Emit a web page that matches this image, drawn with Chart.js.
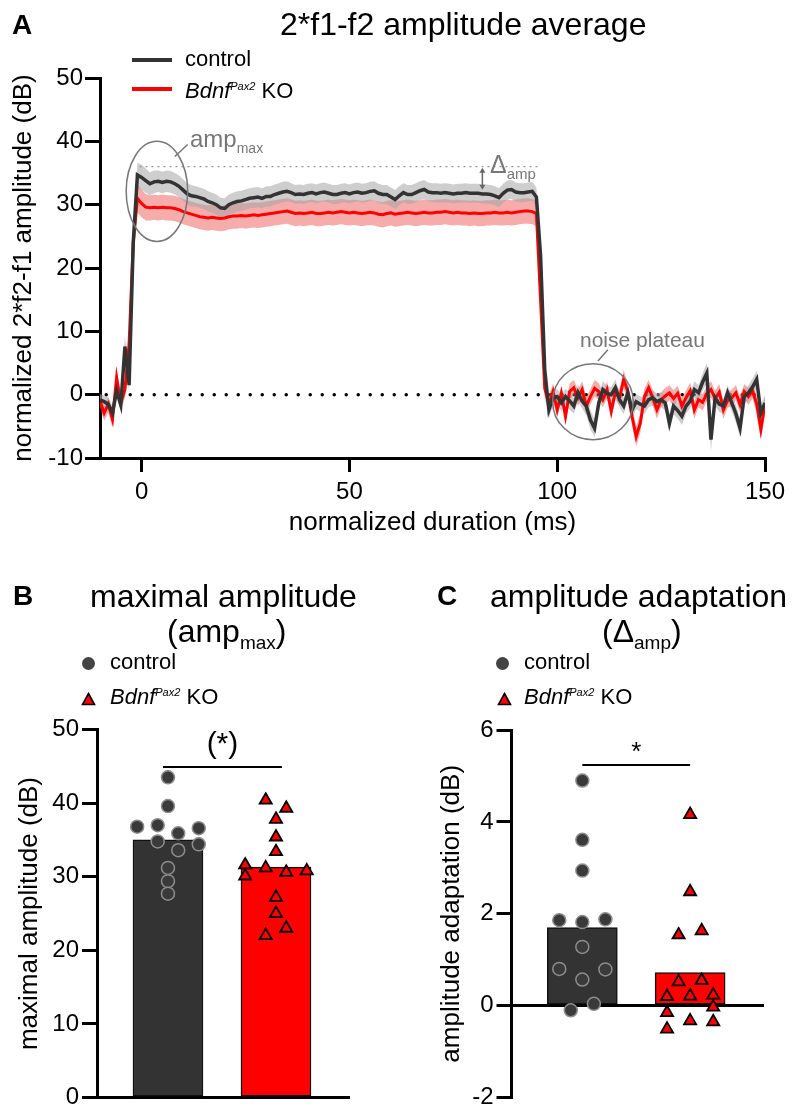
<!DOCTYPE html>
<html>
<head>
<meta charset="utf-8">
<script src="https://cdn.jsdelivr.net/npm/chart.js@4.4.0/dist/chart.umd.min.js"></script>
<style>
  body { margin: 0; background: #fff; }
  #page { position: relative; width: 795px; height: 1115px; overflow: hidden; font-family: "Liberation Sans", Arial, sans-serif; color: #000; }
  canvas { position: absolute; }
  .t { position: absolute; white-space: nowrap; line-height: 1; }
  .t sub, .t sup { line-height: 0; }
  .letter { font-weight: bold; font-size: 28px; }
  .title { font-size: 32px; }
  .leg { font-size: 22px; }
  .note { color: #777; }
  .swatch { position: absolute; width: 40px; height: 4px; }
  .dot { position: absolute; width: 13px; height: 13px; border-radius: 50%; background: #444; }
</style>
</head>
<body>
<div id="page">
  <canvas id="chartA" width="795" height="550" style="left:0;top:0"></canvas>
  <canvas id="chartB" width="400" height="555" style="left:0;top:560px"></canvas>
  <canvas id="chartC" width="395" height="555" style="left:400px;top:560px"></canvas>

  <!-- panel A text -->
  <div class="t letter" style="left:12px;top:11px">A</div>
  <div class="t title" style="left:280px;top:8px">2*f1-f2 amplitude average</div>
  <div class="swatch" style="left:132px;top:58px;background:#333"></div>
  <div class="t leg" style="left:185px;top:48px">control</div>
  <div class="swatch" style="left:132px;top:87px;background:#f00"></div>
  <div class="t leg" style="left:185px;top:80px"><i>Bdnf</i><sup style="font-size:11px"><i>Pax2</i></sup> KO</div>
  <div class="t note" style="left:190px;top:127px;font-size:24px">amp<sub style="font-size:14px">max</sub></div>
  <div class="t note" style="left:490px;top:152px;font-size:25px">Δ<sub style="font-size:15px">amp</sub></div>
  <div class="t note" style="left:580px;top:329px;font-size:21px">noise plateau</div>

  <!-- panel B text -->
  <div class="t letter" style="left:13px;top:582px">B</div>
  <div class="t title" style="left:90px;top:580px">maximal amplitude</div>
  <div class="t title" style="left:167px;top:615px">(amp<sub style="font-size:19px">max</sub>)</div>
  <div class="dot" style="left:82px;top:657px"></div>
  <div class="t leg" style="left:110px;top:651px">control</div>
  <svg style="position:absolute;left:81px;top:692px" width="15" height="14"><polygon points="7.5,1.5 13.5,12.5 1.5,12.5" fill="#f00" stroke="#000" stroke-width="1.6"/></svg>
  <div class="t leg" style="left:110px;top:686px"><i>Bdnf</i><sup style="font-size:11px"><i>Pax2</i></sup> KO</div>

  <!-- panel C text -->
  <div class="t letter" style="left:437px;top:582px">C</div>
  <div class="t title" style="left:490px;top:580px">amplitude adaptation</div>
  <div class="t title" style="left:602px;top:615px">(Δ<sub style="font-size:19px">amp</sub>)</div>
  <div class="dot" style="left:496px;top:657px"></div>
  <div class="t leg" style="left:524px;top:651px">control</div>
  <svg style="position:absolute;left:497px;top:692px" width="15" height="14"><polygon points="7.5,1.5 13.5,12.5 1.5,12.5" fill="#f00" stroke="#000" stroke-width="1.6"/></svg>
  <div class="t leg" style="left:524px;top:686px"><i>Bdnf</i><sup style="font-size:11px"><i>Pax2</i></sup> KO</div>
</div>

<script>
// ---- panel A: averaged traces, one sample per ms starting at -10 ms ----
const startMs = -10;
const ctrlAmp = [
  -0.8, -1.1, -1.5, -2.9, 0.6, -1.6, 7.6, 1.5, 24.0, 34.7,
  34.3, 33.8, 33.3, 33.6, 33.7, 33.5, 33.7, 33.6, 33.3, 32.9,
  32.3, 31.7, 31.4, 31.3, 31.1, 30.9, 30.5, 30.3, 30.0, 29.5,
  29.4, 30.0, 30.3, 30.5, 30.6, 30.8, 31.0, 31.1, 31.2, 31.0,
  31.3, 31.3, 31.6, 31.8, 32.0, 32.1, 31.9, 31.6, 31.7, 31.6,
  31.8, 31.9, 31.7, 31.9, 32.0, 31.8, 31.6, 31.6, 31.8, 31.9,
  31.7, 31.9, 32.0, 31.8, 31.9, 32.1, 32.2, 31.8, 31.6, 31.6,
  31.2, 30.8, 31.4, 31.9, 31.6, 31.6, 31.9, 32.2, 32.4, 32.0,
  31.9, 31.9, 31.8, 31.9, 31.8, 31.7, 31.8, 31.8, 31.9, 31.8,
  31.8, 31.8, 31.7, 31.7, 31.6, 31.4, 31.1, 31.8, 32.3, 32.4,
  32.0, 31.9, 31.9, 32.0, 32.1, 31.2, 22.0, 4.0, -2.4, -0.5,
  -0.3, -1.3, -0.3, -1.0, -1.8, 0.3, -1.0, -1.8, -4.0, -5.3,
  -1.3, 0.8, 0.2, 0.0, 1.1, -0.8, -1.8, 0.3, -2.4, -1.1,
  -1.5, -1.8, -0.8, -0.5, -1.1, -0.8, -1.3, -4.5, -1.8, -2.5,
  -3.4, -1.8, -1.0, 0.8, 0.3, 2.0, 3.4, -7.1, -0.5, -1.5,
  -1.8, 0.3, -1.3, -3.0, -5.3, -0.3, 0.3, 1.2, 2.4, -2.9, -1.3
];
const ctrlSem = [
  0.9, 1.0, 1.0, 1.1, 1.0, 1.2, 1.6, 1.2, 1.6, 1.9,
  2.0, 1.9, 1.8, 1.8, 1.7, 1.7, 1.7, 1.7, 1.7, 1.7,
  1.7, 1.7, 1.7, 1.6, 1.6, 1.6, 1.6, 1.6, 1.6, 1.6,
  1.6, 1.6, 1.6, 1.6, 1.6, 1.6, 1.6, 1.6, 1.6, 1.6,
  1.6, 1.6, 1.6, 1.6, 1.6, 1.6, 1.5, 1.5, 1.5, 1.5,
  1.5, 1.5, 1.5, 1.5, 1.5, 1.5, 1.5, 1.5, 1.5, 1.5,
  1.5, 1.5, 1.5, 1.5, 1.5, 1.5, 1.5, 1.5, 1.5, 1.5,
  1.5, 1.5, 1.5, 1.5, 1.5, 1.5, 1.5, 1.5, 1.5, 1.5,
  1.5, 1.5, 1.5, 1.5, 1.5, 1.5, 1.5, 1.5, 1.5, 1.5,
  1.5, 1.5, 1.5, 1.5, 1.5, 1.5, 1.5, 1.5, 1.5, 1.5,
  1.5, 1.5, 1.5, 1.5, 1.5, 1.5, 1.8, 1.6, 1.3, 1.2,
  1.2, 1.3, 1.2, 1.4, 1.2, 1.3, 1.2, 1.4, 1.5, 1.4,
  1.2, 1.3, 1.2, 1.2, 1.3, 1.2, 1.3, 1.2, 1.4, 1.2,
  1.2, 1.3, 1.2, 1.2, 1.3, 1.2, 1.2, 1.5, 1.3, 1.3,
  1.4, 1.2, 1.2, 1.3, 1.2, 1.4, 1.6, 1.8, 1.3, 1.2,
  1.2, 1.2, 1.3, 1.4, 1.5, 1.2, 1.2, 1.3, 1.4, 1.3, 1.2
];
const koAmp = [
  -1.0, -2.9, -1.5, -3.9, 2.7, -1.3, 0.8, 8.0, 24.0, 31.0,
  30.2, 29.6, 29.5, 29.6, 29.5, 29.6, 29.5, 29.5, 29.4, 29.2,
  28.9, 28.7, 28.5, 28.3, 28.1, 28.0, 27.9, 28.0, 27.9, 27.8,
  27.9, 28.1, 28.2, 28.2, 28.3, 28.2, 28.3, 28.4, 28.3, 28.4,
  28.5, 28.6, 28.7, 28.8, 28.9, 29.0, 28.8, 28.6, 28.7, 28.6,
  28.7, 28.8, 28.6, 28.6, 28.7, 28.8, 28.7, 28.8, 28.9, 28.8,
  28.7, 28.8, 28.7, 28.6, 28.7, 28.8, 28.7, 28.5, 28.4, 28.6,
  28.7, 28.5, 28.6, 28.7, 28.8, 28.7, 28.6, 28.7, 28.8, 28.7,
  28.7, 28.8, 28.8, 28.9, 28.8, 28.7, 28.8, 28.7, 28.7, 28.6,
  28.7, 28.6, 28.6, 28.7, 28.7, 28.8, 28.7, 28.7, 28.8, 28.7,
  28.8, 28.9, 29.0, 29.0, 28.9, 28.6, 15.0, 1.0, -1.5, 0.5,
  -2.4, 0.2, -3.4, 0.5, 1.1, -0.5, 0.8, -1.8, -0.3, 1.0,
  0.5, -0.8, 0.8, -2.6, 0.4, -0.5, 2.4, 0.5, -3.4, -6.6,
  -4.5, -0.3, 1.1, -0.5, -2.4, -0.8, -0.2, 0.3, -0.6, 0.2,
  -1.8, -0.5, 0.6, -2.4, -0.8, -1.2, 0.2, 0.8, -0.6, 0.4,
  -2.4, -0.9, -0.5, 0.3, -1.6, 0.5, -0.3, 0.6, -1.5, -5.5, -1.6
];
const koSem = [
  1.0, 1.2, 1.3, 1.3, 1.2, 1.2, 1.3, 1.4, 2.0, 2.2,
  2.2, 2.1, 2.0, 2.0, 2.0, 2.0, 2.0, 2.0, 2.0, 2.0,
  2.0, 2.0, 2.0, 2.0, 2.0, 2.0, 2.0, 2.0, 2.0, 2.0,
  2.0, 2.0, 2.0, 2.0, 2.0, 2.0, 2.0, 2.0, 2.0, 2.0,
  2.0, 2.0, 2.0, 2.0, 2.0, 2.0, 2.0, 2.0, 2.0, 2.0,
  2.0, 2.0, 2.0, 2.0, 2.0, 2.0, 2.0, 2.0, 2.0, 2.0,
  2.0, 2.0, 2.0, 2.0, 2.0, 2.0, 2.0, 2.0, 2.0, 2.0,
  2.0, 2.0, 2.0, 2.0, 2.0, 2.0, 2.0, 2.0, 2.0, 2.0,
  2.0, 2.0, 2.0, 2.0, 2.0, 2.0, 2.0, 2.0, 2.0, 2.0,
  2.0, 2.0, 2.0, 2.0, 2.0, 2.0, 2.0, 2.0, 2.0, 2.0,
  2.0, 2.0, 2.0, 2.0, 2.0, 2.0, 2.0, 1.6, 1.4, 1.3,
  1.3, 1.2, 1.4, 1.3, 1.2, 1.3, 1.3, 1.4, 1.2, 1.3,
  1.3, 1.2, 1.3, 1.4, 1.2, 1.3, 1.5, 1.3, 1.4, 1.6,
  1.5, 1.3, 1.2, 1.3, 1.4, 1.2, 1.3, 1.2, 1.3, 1.2,
  1.3, 1.2, 1.3, 1.4, 1.2, 1.3, 1.2, 1.3, 1.2, 1.3,
  1.4, 1.2, 1.3, 1.2, 1.3, 1.2, 1.3, 1.2, 1.4, 1.6, 1.3
];
const durTicks = [0, 50, 100, 150];
const ampMaxLevel = 36;   // gray dotted reference line
const deltaAtMs = 82;     // where the adaptation arrow sits

// ---- panel B: maximal amplitude per animal ----
const ampMaxCtrl = [43.5, 39.6, 36.8, 37.0, 35.9, 36.6, 34.8, 33.6, 34.4, 31.2, 29.4, 27.7];
const ampMaxKo = [40.4, 39.3, 37.8, 35.4, 33.4, 31.6, 31.2, 30.6, 30.8, 30.1, 27.2, 25.0, 23.0, 22.0];
const ampMaxMeans = [35.0, 31.3];
// ---- panel C: amplitude adaptation per animal ----
const adaptCtrl = [4.90, 3.61, 2.94, 1.86, 1.82, 1.88, 1.28, 0.80, 0.79, 0.57, -0.10, 0.04];
const adaptKo = [4.16, 2.48, 1.54, 1.63, 0.52, 0.55, 0.20, 0.21, 0.23, -0.03, -0.15, -0.33, -0.35, -0.51];
const adaptMeans = [1.70, 0.72];

// scatter lanes (horizontal spread of the dots, layout only)
const ampMaxCtrlLane = [0, 0, -3, -1, 1, 3, -1, 1, 3, 0, 0, 0];
const ampMaxKoLane = [-1, 1, 0, 0, 0, -3, -1, 1, 3, -3, 0, 0, 1, -1];
const adaptCtrlLane = [0, 0, 0, -2, 0, 2, 0, -2, 2, 0, -1, 1];
const adaptKoLane = [0, 0, -1, 1, -1, 1, -2, 0, 2, 2, -2, 0, 2, -2];

Chart.defaults.font.family = '"Liberation Sans", Arial, sans-serif';
Chart.defaults.color = '#000';
Chart.defaults.animation = false;

const pts = (vals) => vals.map((v, i) => ({ x: startMs + i, y: v }));
const band = (vals, sem, sign) => vals.map((v, i) => v + sign * sem[i]);

const axisGrid = { drawOnChartArea: false, drawTicks: true, tickLength: 15, color: '#000', lineWidth: 3 };
const axisBorder = { display: true, color: '#000', width: 3 };

const traceNotes = {
  id: 'traceNotes',
  beforeDatasetsDraw(chart) {
    const { ctx, scales: { x, y } } = chart;
    ctx.save();
    ctx.strokeStyle = '#000';
    ctx.lineWidth = 3.5;
    ctx.lineCap = 'round';
    ctx.setLineDash([0, 12]);
    ctx.beginPath();
    ctx.moveTo(x.getPixelForValue(-8.5), y.getPixelForValue(0));
    ctx.lineTo(x.getPixelForValue(150), y.getPixelForValue(0));
    ctx.stroke();
    ctx.restore();
  },
  afterDatasetsDraw(chart) {
    const { ctx, scales: { x, y } } = chart;
    const px = (v) => x.getPixelForValue(v);
    const py = (v) => y.getPixelForValue(v);
    ctx.save();
    // dotted level of amp max
    ctx.strokeStyle = '#999';
    ctx.lineWidth = 1.3;
    ctx.setLineDash([2, 4]);
    ctx.beginPath();
    ctx.moveTo(px(-0.5), py(ampMaxLevel));
    ctx.lineTo(px(96), py(ampMaxLevel));
    ctx.stroke();
    ctx.setLineDash([]);

    // ellipses
    ctx.strokeStyle = '#777';
    ctx.lineWidth = 1.5;
    const ellipse = (cx, cy, rx, ry) => {
      ctx.beginPath();
      ctx.ellipse(px(cx), py(cy), px(cx + rx) - px(cx), py(cy) - py(cy + ry), 0, 0, Math.PI * 2);
      ctx.stroke();
    };
    ellipse(3.7, 32.1, 7.4, 7.9);
    ellipse(108.6, -1.1, 9.7, 6.0);
    ctx.beginPath();
    ctx.moveTo(px(8.0), py(37.6));
    ctx.lineTo(px(11.1), py(39.5));
    ctx.moveTo(px(109.8), py(5.3));
    ctx.lineTo(px(112.2), py(7.1));
    ctx.stroke();

    // adaptation arrow
    const ax = px(deltaAtMs);
    const yTop = py(ampMaxLevel) + 1;
    const yBot = py(31.9) - 3;
    ctx.strokeStyle = '#666';
    ctx.fillStyle = '#666';
    ctx.beginPath();
    ctx.moveTo(ax, yTop + 4);
    ctx.lineTo(ax, yBot - 4);
    ctx.stroke();
    ctx.beginPath();
    ctx.moveTo(ax, yTop);
    ctx.lineTo(ax - 3, yTop + 5);
    ctx.lineTo(ax + 3, yTop + 5);
    ctx.closePath();
    ctx.moveTo(ax, yBot);
    ctx.lineTo(ax - 3, yBot - 5);
    ctx.lineTo(ax + 3, yBot - 5);
    ctx.closePath();
    ctx.fill();
    ctx.restore();
  }
};

new Chart(document.getElementById('chartA'), {
  type: 'line',
  data: {
    datasets: [
      { label: 'control', data: pts(ctrlAmp), borderColor: '#333333', borderWidth: 3.5, order: 1 },
      { label: 'Bdnf Pax2 KO', data: pts(koAmp), borderColor: '#ff0000', borderWidth: 3, order: 2 },
      { data: pts(band(ctrlAmp, ctrlSem, 1)), borderWidth: 0, fill: false, order: 3 },
      { data: pts(band(ctrlAmp, ctrlSem, -1)), borderWidth: 0, fill: '-1', backgroundColor: 'rgba(165,165,165,0.55)', order: 3 },
      { data: pts(band(koAmp, koSem, 1)), borderWidth: 0, fill: false, order: 4 },
      { data: pts(band(koAmp, koSem, -1)), borderWidth: 0, fill: '-1', backgroundColor: 'rgba(240,90,90,0.5)', order: 4 }
    ]
  },
  options: {
    responsive: false,
    elements: { point: { radius: 0 }, line: { tension: 0 } },
    layout: { padding: { top: 78, right: 30, left: 0, bottom: 0 } },
    plugins: { legend: { display: false }, tooltip: { enabled: false } },
    scales: {
      x: {
        type: 'linear', min: -10, max: 150,
        afterBuildTicks: (s) => { s.ticks = durTicks.map((v) => ({ value: v })); },
        afterFit: (s) => { s.height = 92; },
        ticks: { font: { size: 24 }, padding: 6, maxRotation: 0 },
        grid: { ...axisGrid, tickLength: 14 },
        border: axisBorder,
        title: { display: true, text: 'normalized duration (ms)', font: { size: 26 }, padding: { top: 0, bottom: 12 } }
      },
      y: {
        min: -10, max: 50,
        afterFit: (s) => { s.width = 100; },
        ticks: { stepSize: 10, font: { size: 24 }, padding: 2 },
        grid: axisGrid,
        border: axisBorder,
        title: { display: true, text: 'normalized 2*f2-f1 amplitude (dB)', font: { size: 26 }, padding: { top: 8, bottom: 0 } }
      }
    }
  },
  plugins: [traceNotes]
});

// ---- panels B and C: bar of means with individual animals ----
const sigLine = {
  id: 'sigLine',
  afterDatasetsDraw(chart, args, opts) {
    const { ctx, scales: { x, y } } = chart;
    const x1 = x.getPixelForValue(opts.from);
    const x2 = x.getPixelForValue(opts.to);
    const yy = y.getPixelForValue(opts.level);
    ctx.save();
    ctx.strokeStyle = '#000';
    ctx.lineWidth = 2;
    ctx.beginPath();
    ctx.moveTo(x1, yy);
    ctx.lineTo(x2, yy);
    ctx.stroke();
    ctx.fillStyle = '#000';
    ctx.font = opts.font;
    ctx.textAlign = 'center';
    ctx.fillText(opts.text, (x1 + x2) / 2, yy - opts.gap);
    ctx.restore();
  }
};

function dotBarChart(canvas, o) {
  const lanePts = (vals, lanes, center) => vals.map((v, i) => ({ x: center + lanes[i] * o.laneStep, y: v }));
  return new Chart(canvas, {
    type: 'bar',
    data: {
      datasets: [
        {
          type: 'bar',
          data: [{ x: 1, y: o.means[0] }, { x: 2, y: o.means[1] }],
          backgroundColor: ['#333333', '#ff0000'],
          borderColor: '#111',
          borderWidth: 1.5,
          borderSkipped: false,
          barThickness: 70,
          order: 3
        },
        {
          type: 'scatter',
          data: lanePts(o.ctrl, o.ctrlLane, 1),
          pointStyle: 'circle', pointRadius: 6.5,
          backgroundColor: '#3a3a3a', borderColor: '#8d8d8d', borderWidth: 1.5,
          order: 2
        },
        {
          type: 'scatter',
          data: lanePts(o.ko, o.koLane, 2),
          pointStyle: 'triangle', pointRadius: 7,
          backgroundColor: '#ff0000', borderColor: '#000', borderWidth: 1.8,
          order: 1
        }
      ]
    },
    options: {
      responsive: false,
      layout: { padding: { top: o.top, right: o.right, left: 0, bottom: o.bottom } },
      plugins: { legend: { display: false }, tooltip: { enabled: false }, sigLine: o.sig },
      scales: {
        x: {
          type: 'linear', min: 0.343, max: 2.676, offset: false, position: o.xPos,
          afterFit: (s) => { s.height = 8; },
          ticks: { display: false },
          grid: { display: false, offset: false },
          border: axisBorder
        },
        y: {
          min: o.min, max: o.max,
          afterFit: (s) => { s.width = o.axisLeft; },
          ticks: { stepSize: o.step, font: { size: 24 }, padding: 3 },
          grid: axisGrid,
          border: axisBorder,
          title: { display: true, text: o.yTitle, font: { size: 26 }, padding: { top: o.titlePad, bottom: 0 } }
        }
      }
    },
    plugins: [sigLine]
  });
}

dotBarChart(document.getElementById('chartB'), {
  ctrl: ampMaxCtrl, ctrlLane: ampMaxCtrlLane, ko: ampMaxKo, koLane: ampMaxKoLane, means: ampMaxMeans,
  laneStep: 0.095, min: 0, max: 50, step: 10,
  top: 169.5, right: 51, bottom: 0, axisLeft: 97, xPos: 'bottom', titlePad: 14,
  yTitle: 'maximal amplitude (dB)',
  sig: { from: 0.954, to: 2.055, level: 44.9, text: '(*)', font: '30px "Liberation Sans", Arial, sans-serif', gap: 14 }
});

dotBarChart(document.getElementById('chartC'), {
  ctrl: adaptCtrl, ctrlLane: adaptCtrlLane, ko: adaptKo, koLane: adaptKoLane, means: adaptMeans,
  laneStep: 0.107, min: -2, max: 6, step: 2,
  top: 170, right: 32, bottom: 8, axisLeft: 111.5, xPos: { y: 0 }, titlePad: 36,
  yTitle: 'amplitude adaptation (dB)',
  sig: { from: 1.0, to: 2.0, level: 5.24, text: '*', font: '26px "Liberation Sans", Arial, sans-serif', gap: 5 }
});
</script>
</body>
</html>
